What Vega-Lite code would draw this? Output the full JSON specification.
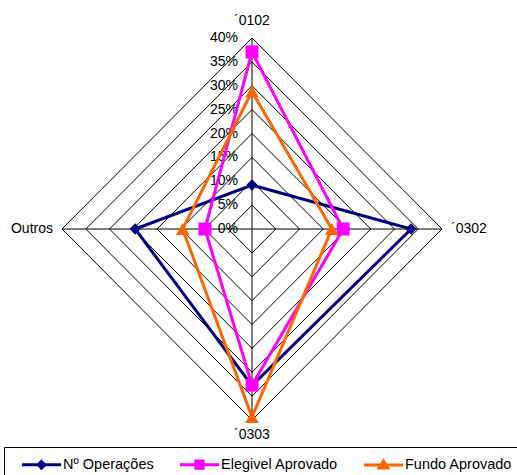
{
  "$schema": "https://vega.github.io/schema/vega-lite/v6.json",
  "width": 380,
  "height": 382,
  "autosize": {"type": "none"},
  "padding": {"left": 62, "top": 38, "right": 75, "bottom": 55},
  "config": {"view": {"stroke": null}, "font": "Liberation Sans", "text": {"font": "Liberation Sans", "fontSize": 14, "color": "black"}},
  "datasets": {
    "series": [
      {"series": "Nº Operações", "axis": "´0102", "value": 0.092},
      {"series": "Nº Operações", "axis": "´0302", "value": 0.335},
      {"series": "Nº Operações", "axis": "´0303", "value": 0.328},
      {"series": "Nº Operações", "axis": "Outros", "value": 0.246},
      {"series": "Elegivel Aprovado", "axis": "´0102", "value": 0.371},
      {"series": "Elegivel Aprovado", "axis": "´0302", "value": 0.192},
      {"series": "Elegivel Aprovado", "axis": "´0303", "value": 0.327},
      {"series": "Elegivel Aprovado", "axis": "Outros", "value": 0.099},
      {"series": "Fundo Aprovado", "axis": "´0102", "value": 0.288},
      {"series": "Fundo Aprovado", "axis": "´0302", "value": 0.168},
      {"series": "Fundo Aprovado", "axis": "´0303", "value": 0.394},
      {"series": "Fundo Aprovado", "axis": "Outros", "value": 0.146}
    ],
    "grid": [
      {"level": 0.05, "axis": "´0102"}, {"level": 0.05, "axis": "´0302"}, {"level": 0.05, "axis": "´0303"}, {"level": 0.05, "axis": "Outros"},
      {"level": 0.10, "axis": "´0102"}, {"level": 0.10, "axis": "´0302"}, {"level": 0.10, "axis": "´0303"}, {"level": 0.10, "axis": "Outros"},
      {"level": 0.15, "axis": "´0102"}, {"level": 0.15, "axis": "´0302"}, {"level": 0.15, "axis": "´0303"}, {"level": 0.15, "axis": "Outros"},
      {"level": 0.20, "axis": "´0102"}, {"level": 0.20, "axis": "´0302"}, {"level": 0.20, "axis": "´0303"}, {"level": 0.20, "axis": "Outros"},
      {"level": 0.25, "axis": "´0102"}, {"level": 0.25, "axis": "´0302"}, {"level": 0.25, "axis": "´0303"}, {"level": 0.25, "axis": "Outros"},
      {"level": 0.30, "axis": "´0102"}, {"level": 0.30, "axis": "´0302"}, {"level": 0.30, "axis": "´0303"}, {"level": 0.30, "axis": "Outros"},
      {"level": 0.35, "axis": "´0102"}, {"level": 0.35, "axis": "´0302"}, {"level": 0.35, "axis": "´0303"}, {"level": 0.35, "axis": "Outros"},
      {"level": 0.40, "axis": "´0102"}, {"level": 0.40, "axis": "´0302"}, {"level": 0.40, "axis": "´0303"}, {"level": 0.40, "axis": "Outros"}
    ],
    "ticks": [
      {"level": 0}, {"level": 0.05}, {"level": 0.10}, {"level": 0.15}, {"level": 0.20},
      {"level": 0.25}, {"level": 0.30}, {"level": 0.35}, {"level": 0.40}
    ],
    "axes": [
      {"axis": "´0102", "r": 0.4},
      {"axis": "´0302", "r": 0.4},
      {"axis": "´0303", "r": 0.4},
      {"axis": "Outros", "r": 0.4}
    ]
  },
  "layer": [
    {
      "data": {"name": "grid"},
      "transform": [
        {"calculate": "indexof(['´0102','´0302','´0303','Outros'], datum.axis)", "as": "k"},
        {"calculate": "datum.level*sin(datum.k*PI/2)", "as": "px"},
        {"calculate": "datum.level*cos(datum.k*PI/2)", "as": "py"}
      ],
      "mark": {"type": "line", "interpolate": "linear-closed", "color": "black", "strokeWidth": 1},
      "encoding": {
        "x": {"field": "px", "type": "quantitative", "scale": {"domain": [-0.4, 0.4], "nice": false, "zero": false}, "axis": null},
        "y": {"field": "py", "type": "quantitative", "scale": {"domain": [-0.4, 0.4], "nice": false, "zero": false}, "axis": null},
        "detail": {"field": "level"},
        "order": {"field": "k"}
      }
    },
    {
      "data": {"name": "axes"},
      "transform": [
        {"calculate": "indexof(['´0102','´0302','´0303','Outros'], datum.axis)", "as": "k"},
        {"calculate": "datum.r*sin(datum.k*PI/2)", "as": "px"},
        {"calculate": "datum.r*cos(datum.k*PI/2)", "as": "py"}
      ],
      "mark": {"type": "rule", "color": "black", "strokeWidth": 1},
      "encoding": {
        "x": {"field": "px", "type": "quantitative"},
        "y": {"field": "py", "type": "quantitative"},
        "x2": {"datum": 0},
        "y2": {"datum": 0}
      }
    },
    {
      "data": {"name": "ticks"},
      "mark": {"type": "text", "align": "right", "baseline": "middle", "dx": -14},
      "encoding": {
        "x": {"datum": 0, "type": "quantitative"},
        "y": {"field": "level", "type": "quantitative"},
        "text": {"field": "level", "type": "quantitative", "format": ".0%"}
      }
    },
    {
      "data": {"name": "axes"},
      "transform": [{"filter": "datum.axis === '´0102'"}],
      "mark": {"type": "text", "align": "center", "baseline": "middle", "dy": -17},
      "encoding": {
        "x": {"datum": 0, "type": "quantitative"},
        "y": {"field": "r", "type": "quantitative"},
        "text": {"field": "axis"}
      }
    },
    {
      "data": {"name": "axes"},
      "transform": [{"filter": "datum.axis === '´0303'"}, {"calculate": "-datum.r", "as": "ny"}],
      "mark": {"type": "text", "align": "center", "baseline": "middle", "dy": 15},
      "encoding": {
        "x": {"datum": 0, "type": "quantitative"},
        "y": {"field": "ny", "type": "quantitative"},
        "text": {"field": "axis"}
      }
    },
    {
      "data": {"name": "axes"},
      "transform": [{"filter": "datum.axis === '´0302'"}],
      "mark": {"type": "text", "align": "left", "baseline": "middle", "dx": 9},
      "encoding": {
        "x": {"field": "r", "type": "quantitative"},
        "y": {"datum": 0, "type": "quantitative"},
        "text": {"field": "axis"}
      }
    },
    {
      "data": {"name": "axes"},
      "transform": [{"filter": "datum.axis === 'Outros'"}, {"calculate": "-datum.r", "as": "nx"}],
      "mark": {"type": "text", "align": "right", "baseline": "middle", "dx": -9},
      "encoding": {
        "x": {"field": "nx", "type": "quantitative"},
        "y": {"datum": 0, "type": "quantitative"},
        "text": {"field": "axis"}
      }
    },
    {
      "data": {"name": "series"},
      "transform": [
        {"calculate": "indexof(['´0102','´0302','´0303','Outros'], datum.axis)", "as": "k"},
        {"calculate": "datum.value*sin(datum.k*PI/2)", "as": "px"},
        {"calculate": "datum.value*cos(datum.k*PI/2)", "as": "py"}
      ],
      "layer": [
        {
          "mark": {"type": "line", "interpolate": "linear-closed", "strokeWidth": 3},
          "encoding": {
            "x": {"field": "px", "type": "quantitative"},
            "y": {"field": "py", "type": "quantitative"},
            "order": {"field": "k"},
            "color": {
              "field": "series",
              "type": "nominal",
              "sort": ["Nº Operações", "Elegivel Aprovado", "Fundo Aprovado"],
              "scale": {"domain": ["Nº Operações", "Elegivel Aprovado", "Fundo Aprovado"], "range": ["#000080", "#FF00FF", "#FF6600"]},
              "legend": {
                "orient": "none",
                "legendX": -58,
                "legendY": 409,
                "direction": "horizontal",
                "title": null,
                "strokeColor": "black",
                "fillColor": "white",
                "padding": 9.5,
                "symbolSize": 150,
                "symbolOffset": 20,
                "labelOffset": 13.5,
                "columnPadding": 17,
                "symbolStrokeWidth": 3,
                "labelFontSize": 14.5,
                "labelFont": "Liberation Sans",
                "labelColor": "black",
                "encode": {
                  "symbols": {
                    "update": {
                      "shape": {"signal": "datum.value === 'Nº Operações' ? 'M-3.2,0H3.2M0,-0.55L0.55,0L0,0.55L-0.55,0Z' : datum.value === 'Elegivel Aprovado' ? 'M-3.2,0H3.2M-0.6,-0.6H0.6V0.6H-0.6Z' : 'M-3.2,0H3.2M0,-0.65L0.7,0.5H-0.7Z'"},
                      "fill": {"signal": "datum.value === 'Nº Operações' ? '#000080' : datum.value === 'Elegivel Aprovado' ? '#FF00FF' : '#FF6600'"},
                      "stroke": {"signal": "datum.value === 'Nº Operações' ? '#000080' : datum.value === 'Elegivel Aprovado' ? '#FF00FF' : '#FF6600'"},
                      "strokeWidth": {"value": 3},
                      "opacity": {"value": 1}
                    }
                  }
                }
              }
            }
          }
        },
        {
          "transform": [{"filter": "datum.series === 'Nº Operações'"}],
          "mark": {"type": "point", "filled": true, "opacity": 1, "shape": "diamond", "size": 130, "color": "#000080"},
          "encoding": {
            "x": {"field": "px", "type": "quantitative"},
            "y": {"field": "py", "type": "quantitative"}
          }
        },
        {
          "transform": [{"filter": "datum.series === 'Elegivel Aprovado'"}],
          "mark": {"type": "point", "filled": true, "opacity": 1, "shape": "square", "size": 169, "color": "#FF00FF"},
          "encoding": {
            "x": {"field": "px", "type": "quantitative"},
            "y": {"field": "py", "type": "quantitative"}
          }
        },
        {
          "transform": [{"filter": "datum.series === 'Fundo Aprovado'"}],
          "mark": {"type": "point", "filled": true, "opacity": 1, "shape": "triangle-up", "size": 190, "color": "#FF6600"},
          "encoding": {
            "x": {"field": "px", "type": "quantitative"},
            "y": {"field": "py", "type": "quantitative"}
          }
        }
      ]
    }
  ]
}
